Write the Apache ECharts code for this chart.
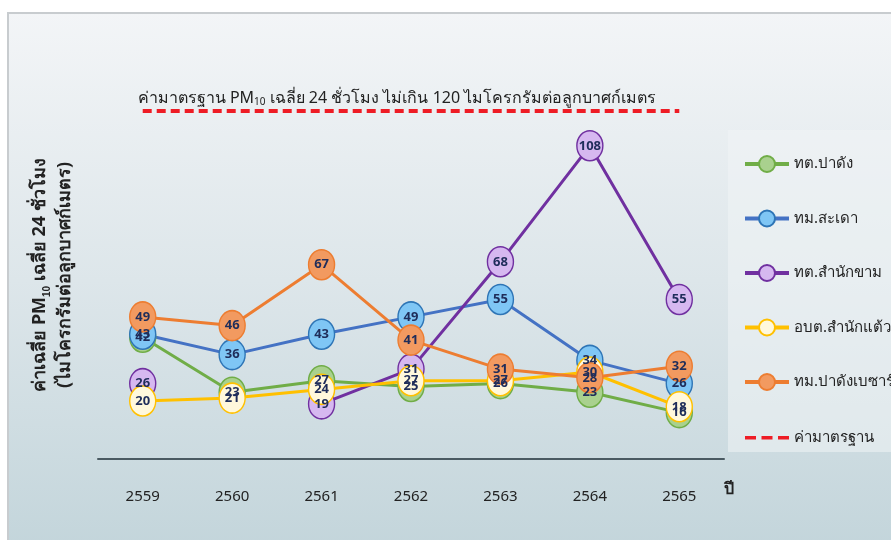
<!DOCTYPE html>
<html><head><meta charset="utf-8">
<script src="https://cdn.jsdelivr.net/npm/echarts@6/dist/echarts.min.js"></script>
<style>html,body{margin:0;padding:0;background:#fff}#c{width:891px;height:540px}</style>
</head><body><div id="c"></div>
<script>
const years = ['2559','2560','2561','2562','2563','2564','2565'];
const seriesNames = ['ทต.ปาดัง','ทม.สะเดา','ทต.สำนักขาม','อบต.สำนักแต้ว','ทม.ปาดังเบซาร์','ค่ามาตรฐาน'];
const padang = [42, 23, 27, 25, 26, 23, 16];
const sadao = [43, 36, 43, 49, 55, 34, 26];
const samnakkham = [26, null, 19, 31, 68, 108, 55];
const samnaktaeo = [20, 21, 24, 27, 27, 30, 18];
const padangbesar = [49, 46, 67, 41, 31, 28, 32];
const standard = [120, 120, 120, 120, 120, 120, 120];

const lineColors = ['#70ad47','#4472c4','#7030a0','#ffc000','#ed7d31'];
const fillColors = ['#a9d18e','#7fc6f5','#d6b8f0','#fff8dc','#f29a60'];
const borderColors = ['#70ad47','#2e75b6','#7030a0','#ffc000','#ed7d31'];
const values = [padang, sadao, samnakkham, samnaktaeo, padangbesar];

const font = '"Noto Sans", "DejaVu Sans", sans-serif';

const series = values.map((d, i) => ({
  name: seriesNames[i],
  type: 'line',
  data: d,
  symbol: 'circle',
  symbolSize: [26, 30],
  connectNulls: false,
  lineStyle: {color: lineColors[i], width: 3},
  itemStyle: {color: fillColors[i], borderColor: borderColors[i], borderWidth: 1.5},
  label: {show: true, position: 'inside', color: '#1f2d5a', fontWeight: 'bold', fontSize: 13, fontFamily: font},
  labelLayout: {hideOverlap: false},
  emphasis: {disabled: true}
}));
series.push({
  name: seriesNames[5],
  type: 'line',
  data: standard,
  symbol: 'none',
  lineStyle: {color: '#ee1c25', width: 4, type: [9, 5]},
  itemStyle: {color: '#ee1c25'},
  emphasis: {disabled: true}
});

const dashIcon = 'path://M0,0 M0,20 M44,0 M0,8.5 h11 v3.5 h-11z M16.5,8.5 h11 v3.5 h-11z M33,8.5 h11 v3.5 h-11z';
const legendData = seriesNames.map((n, i) => i === 5 ? {name: n, icon: dashIcon} : {name: n});

const chart = echarts.init(document.getElementById('c'), null, {renderer: 'canvas'});
chart.setOption({
  backgroundColor: '#ffffff',
  animation: false,
  graphic: [
    {type: 'rect', z: -10, shape: {x: 8, y: 13, width: 890, height: 535},
     style: {fill: {type: 'linear', x: 0, y: 0, x2: 0, y2: 1, colorStops: [
       {offset: 0, color: '#f3f5f7'}, {offset: 0.5, color: '#dde6ea'}, {offset: 1, color: '#c3d5db'}]},
       stroke: '#c8cccf', lineWidth: 2}},
    {type: 'rect', z: -9, shape: {x: 728, y: 130, width: 170, height: 322},
     style: {fill: 'rgba(240,244,246,0.55)'}},
    {type: 'text', z: 5, rotation: Math.PI / 2, x: 52, y: 275,
     style: {
       text: 'ค่าเฉลี่ย PM{sub|10} เฉลี่ย 24 ชั่วโมง\n(ไมโครกรัมต่อลูกบาศก์เมตร)',
       align: 'center', verticalAlign: 'middle',
       fill: '#222', font: 'bold 18px ' + font, lineHeight: 25,
       rich: {sub: {fontSize: 10, fill: '#222', fontWeight: 'bold', verticalAlign: 'bottom', padding: [7, 0, 0, 0]}}
     }}
  ],
  title: {
    text: 'ค่ามาตรฐาน PM{sub|10} เฉลี่ย 24 ชั่วโมง ไม่เกิน 120 ไมโครกรัมต่อลูกบาศก์เมตร',
    left: 392, top: 84, textAlign: 'center',
    textStyle: {fontSize: 16, fontWeight: 'normal', color: '#222', fontFamily: font,
      rich: {sub: {fontSize: 10, color: '#222', padding: [8, 0, 0, 0]}}}
  },
  legend: {
    orient: 'vertical', left: 738, top: 150, itemGap: 36.5, itemWidth: 44, itemHeight: 20,
    data: legendData,
    lineStyle: {width: 4},
    textStyle: {fontSize: 15, color: '#222', fontFamily: font}
  },
  grid: {left: 98, right: 167, top: 53, bottom: 81},
  xAxis: {
    type: 'category', data: years, boundaryGap: true,
    name: 'ปี', nameLocation: 'end', nameGap: 0,
    nameTextStyle: {fontSize: 16, fontWeight: 'bold', color: '#222', fontFamily: font, verticalAlign: 'top', padding: [22, 0, 0, 0]},
    axisLine: {show: true, lineStyle: {color: '#4a5a62', width: 2}},
    axisTick: {show: false},
    axisLabel: {fontSize: 15, color: '#222', margin: 30, fontFamily: font}
  },
  yAxis: {
    type: 'value', min: 0, max: 140, interval: 20,
    axisLine: {show: false}, axisTick: {show: false}, axisLabel: {show: false},
    splitLine: {show: false}
  },
  series: series
});
</script></body></html>
